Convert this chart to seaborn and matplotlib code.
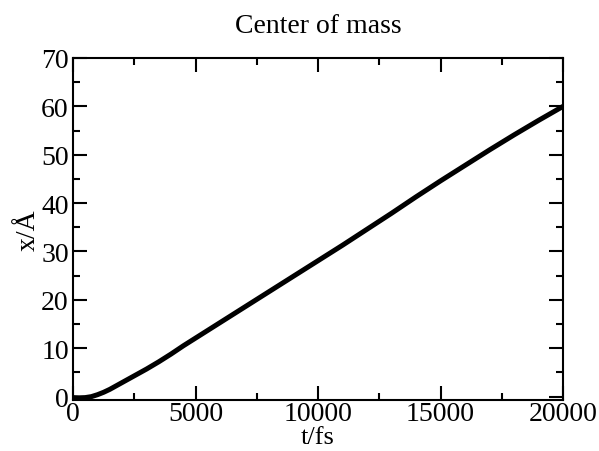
import numpy as np
import pandas as pd
from matplotlib import pyplot as plt
import seaborn as sns

# values
t_fs = [0, 250, 500, 750, 1000, 1250, 1500, 2000, 2500, 3000, 3500, 4000, 4500,
        5000, 5500, 6000, 7000, 8000, 9000, 10000, 11000, 12000, 13000, 14000,
        15000, 16000, 17000, 18000, 19000, 20000]
x_ang = [-0.2, -0.25, -0.2, 0.0, 0.4, 0.9, 1.5, 2.9, 4.3, 5.7, 7.2, 8.8, 10.5,
         12.1, 13.7, 15.3, 18.5, 21.7, 24.9, 28.1, 31.3, 34.6, 37.9, 41.3,
         44.6, 47.8, 51.0, 54.1, 57.1, 60.0]

df = pd.DataFrame({'t': t_fs, 'x': x_ang})

sns.set_theme(style='ticks')
plt.rcParams['font.family'] = ['Liberation Serif', 'DejaVu Serif']
plt.rcParams['text.color'] = 'black'
plt.rcParams['axes.labelcolor'] = 'black'

fig = plt.figure(figsize=(5.99, 4.52), dpi=100)
ax = fig.add_axes([0.1219, 0.1128, 0.8181, 0.7567])

sns.lineplot(data=df, x='t', y='x', color='black', linewidth=3.6, ax=ax)

ax.set_xlim(0, 20000)
ax.set_ylim(-0.7, 70)
ax.set_xticks(np.arange(0, 20001, 5000))
ax.set_xticks(np.arange(0, 20001, 2500), minor=True)
ax.set_yticks(np.arange(0, 71, 10))
ax.set_yticks(np.arange(0, 71, 5), minor=True)

ax.tick_params(which='both', direction='in', top=True, right=True,
               labelsize=20, width=1.5, colors='black', labelcolor='black')
ax.tick_params(axis='x', pad=1)
ax.tick_params(axis='y', pad=3)
ax.tick_params(which='major', length=10)
ax.tick_params(which='minor', length=5)
for s in ax.spines.values():
    s.set_linewidth(1.5)
    s.set_color('black')

ax.set_xlabel('t/fs', fontsize=19, labelpad=-0.5, color='black')
ax.set_ylabel('x/Å', fontsize=20, labelpad=0, color='black')
ax.set_title('Center of mass', fontsize=20, pad=19, color='black')

fig.savefig('out.png', dpi=100)
